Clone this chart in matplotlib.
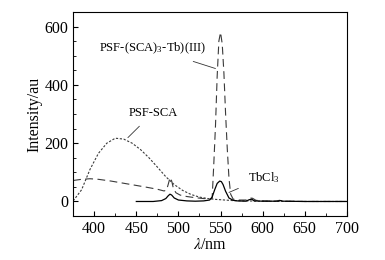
import matplotlib
matplotlib.use("Agg")
import matplotlib.pyplot as plt
from matplotlib.ticker import MultipleLocator

plt.rcParams['font.family'] = ['Liberation Serif', 'DejaVu Serif']
plt.rcParams['mathtext.fontset'] = 'stix'

# PSF-SCA emission
sca_x = [375, 385, 395, 405, 415, 425, 435, 445, 455, 465, 475, 485, 495,
         505, 515, 525, 535, 545, 555, 565, 580, 600, 650, 700]
sca_y = [2, 40, 110, 165, 200, 217, 214, 200, 178, 150, 118, 85, 58,
         38, 24, 15, 10, 7, 5, 3, 2, 1, 0, 0]

# PSF-(SCA)3-Tb(III) emission
cplx_x = [375, 385, 395, 405, 420, 440, 460, 475, 483, 486, 488, 490, 492, 494,
          497, 502, 510, 520, 530, 538, 540, 542, 544, 546, 548, 550, 552, 554,
          556, 558, 560, 562, 565, 570, 580, 585, 588, 592, 600, 615, 620, 625,
          650, 700]
cplx_y = [72, 76, 78, 76, 70, 60, 50, 42, 36, 40, 60, 82, 70, 45,
          30, 22, 17, 13, 10, 9, 10, 130, 260, 430, 550, 580, 540, 440,
          300, 180, 80, 25, 8, 5, 5, 12, 11, 4, 2, 1, 4, 1,
          0, 0]

# TbCl3 emission
tb_x = [450, 470, 480, 485, 488, 490, 492, 495, 500, 510, 520, 530, 537, 540,
        543, 546, 549, 551, 553, 556, 560, 565, 570, 580, 584, 587, 590, 600,
        618, 621, 624, 650, 700]
tb_y = [0, 0, 3, 10, 20, 25, 22, 12, 5, 2, 1, 2, 5, 15,
        40, 62, 70, 68, 58, 35, 12, 4, 2, 1, 6, 8, 2, 1,
        1, 3, 1, 0, 0]

fig = plt.figure(figsize=(3.85, 2.6), dpi=100)
ax = fig.add_axes([0.19, 0.169, 0.711, 0.785])

ax.plot(sca_x, sca_y, color='#3a3a3a', lw=0.8, linestyle=(0, (2, 1.5)))
ax.plot(cplx_x, cplx_y, color='#3a3a3a', lw=0.8, linestyle=(0, (7, 4)))
ax.plot(tb_x, tb_y, color='black', lw=0.9)

ax.set_xlim(375, 700)
ax.set_ylim(-50, 650)
ax.xaxis.set_major_locator(MultipleLocator(50))
ax.xaxis.set_minor_locator(MultipleLocator(25))
ax.yaxis.set_major_locator(MultipleLocator(200))
ax.yaxis.set_minor_locator(MultipleLocator(50))
ax.tick_params(which='both', direction='in', labelsize=11.5)
ax.tick_params(which='major', length=3.5)
ax.tick_params(which='minor', length=2)
for s in ax.spines.values():
    s.set_linewidth(0.8)

ax.set_xlabel(r'$\lambda$/nm', fontsize=11.5, labelpad=0)
ax.set_ylabel('Intensity/au', fontsize=11.5, labelpad=1)

ax.annotate(r'PSF-(SCA)$_{\mathregular{3}}$-Tb)(III)', xy=(544, 456),
            xytext=(469, 525), fontsize=9, ha='center', va='center',
            arrowprops=dict(arrowstyle='-', lw=0.6, color='#333333',
                            shrinkA=6, shrinkB=0))
ax.annotate('PSF-SCA', xy=(440, 219), xytext=(470, 305),
            fontsize=9, ha='center', va='center',
            arrowprops=dict(arrowstyle='-', lw=0.6, color='#333333',
                            shrinkA=5, shrinkB=0))
ax.annotate(r'TbCl$_{\mathregular{3}}$', xy=(560, 31), xytext=(601, 82),
            fontsize=9, ha='center', va='center',
            arrowprops=dict(arrowstyle='-', lw=0.6, color='#333333',
                            shrinkA=5, shrinkB=0))

fig.savefig('out.png', dpi=100)
